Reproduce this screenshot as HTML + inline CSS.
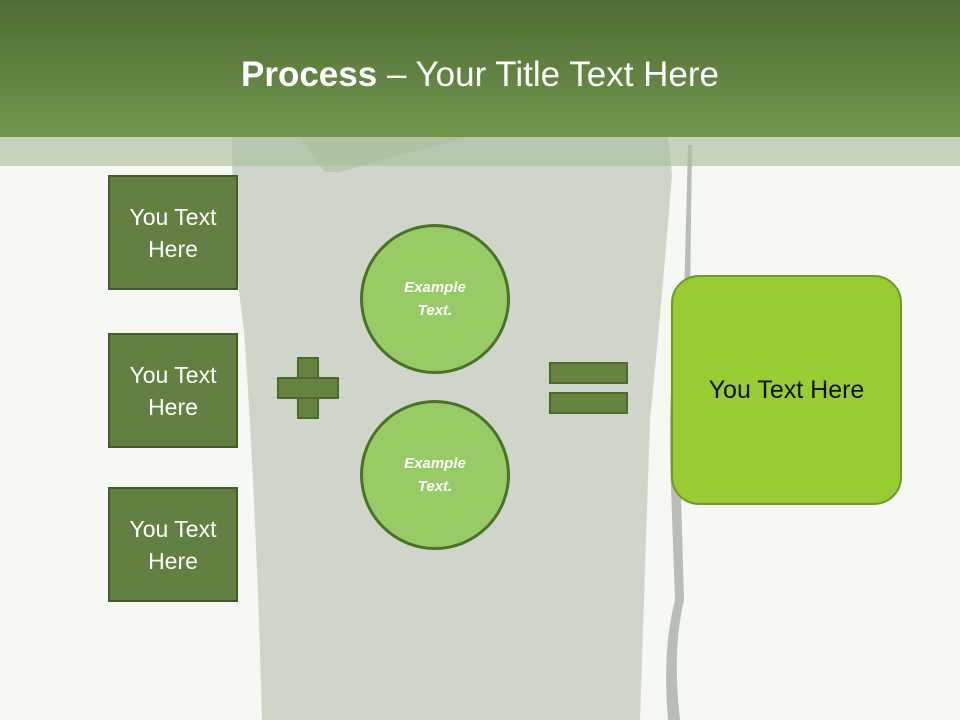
<!DOCTYPE html>
<html><head><meta charset="utf-8"><style>
body{margin:0;width:960px;height:720px;overflow:hidden;background:#f6f8f4;font-family:"Liberation Sans",sans-serif;position:relative}
.abs{position:absolute}
.title{left:0;top:0;width:960px;height:137px;background:linear-gradient(#4f6c35,#71964d);color:#fff;font-size:35px;text-align:center;line-height:150px}
.band{left:0;top:137px;width:960px;height:29px;background:rgba(170,190,160,0.65)}
.box{left:108px;width:126px;height:111px;background:#638043;border:2px solid #3f5c2a;color:#fff;font-size:23px;line-height:32px;display:flex;align-items:center;justify-content:center;text-align:center}
.circ{left:360px;width:144px;height:144px;border-radius:50%;background:#98ca66;border:3px solid #4a7228;color:#fff;font-style:italic;font-weight:bold;font-size:15px;line-height:23px;display:flex;align-items:center;justify-content:center;text-align:center;box-sizing:content-box}
.bar{background:#66833f;border:2px solid #486a2c;box-sizing:border-box}
</style></head><body>
<svg class="abs" style="left:0;top:0" width="960" height="720">
<path d="M232 137 L668 137 L672 175 Q662 300 650 420 L640 720 L262 720 Q256 500 244 330 Q232 250 232 137Z" fill="#cfd6c9"/>
<path d="M688 145 L692 145 L690 300 Q676 360 680 460 L684 600 Q672 650 680 720 L668 720 Q662 650 675 600 L670 460 Q668 360 684 300Z" fill="#b9beb5"/>
<path d="M300 137 Q315 160 325 172 L340 172 Q400 155 470 137Z" fill="#a9b79b" opacity="0.5"/>
</svg>
<div class="abs title"><b>Process</b> – Your Title Text Here</div>
<div class="abs band"></div>
<div class="abs box" style="top:175px">You Text<br>Here</div>
<div class="abs box" style="top:333px">You Text<br>Here</div>
<div class="abs box" style="top:487px">You Text<br>Here</div>
<div class="abs circ" style="top:224px">Example<br>Text.</div>
<div class="abs circ" style="top:400px">Example<br>Text.</div>
<div class="abs bar" style="left:297px;top:357px;width:22px;height:62px"></div>
<div class="abs bar" style="left:277px;top:377px;width:62px;height:22px"></div>
<div class="abs" style="left:299px;top:379px;width:18px;height:18px;background:#66833f"></div>
<div class="abs bar" style="left:549px;top:362px;width:79px;height:22px"></div>
<div class="abs bar" style="left:549px;top:392px;width:79px;height:22px"></div>
<div class="abs" style="left:671px;top:275px;width:227px;height:226px;border-radius:28px;background:#99cb33;border:2px solid #6e9a27;display:flex;align-items:center;justify-content:center;font-size:25px;color:#111">You Text Here</div>
</body></html>
